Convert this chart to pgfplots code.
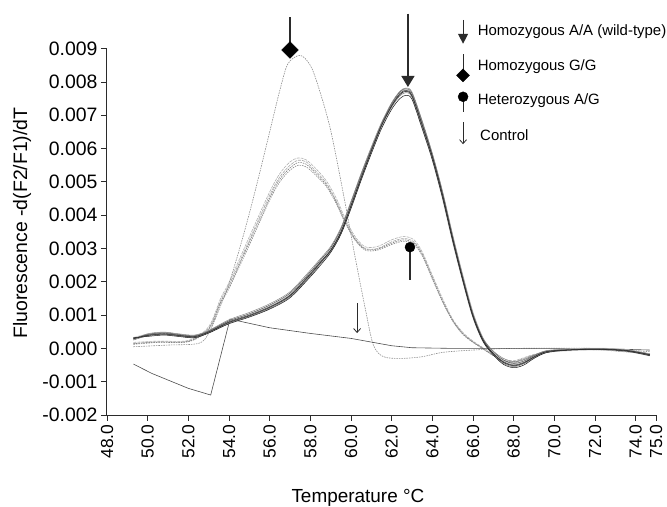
\documentclass[border=0pt]{standalone}
\usepackage{pgfplots}
\pgfplotsset{compat=1.18}
\usepackage{pgfplotstable}
\usepackage{fontspec}
\setmainfont{Liberation Sans}
\usetikzlibrary{arrows.meta}
\definecolor{axisgray}{HTML}{2B2B2B}

% Homozygous A/A (wild-type) replicates
\pgfplotstableread{
T w1 w2 w3 w4 w5 w6
49.3 0.30e-3 0.25e-3 0.28e-3 0.32e-3 0.27e-3 0.29e-3
50.0 0.40e-3 0.38e-3 0.42e-3 0.36e-3 0.44e-3 0.39e-3
50.8 0.45e-3 0.42e-3 0.47e-3 0.40e-3 0.49e-3 0.43e-3
51.5 0.40e-3 0.38e-3 0.42e-3 0.36e-3 0.44e-3 0.39e-3
52.3 0.36e-3 0.33e-3 0.38e-3 0.32e-3 0.40e-3 0.35e-3
53.0 0.50e-3 0.47e-3 0.52e-3 0.46e-3 0.54e-3 0.49e-3
54.0 0.80e-3 0.76e-3 0.83e-3 0.74e-3 0.86e-3 0.78e-3
55.0 1.00e-3 0.96e-3 1.04e-3 0.94e-3 1.08e-3 0.98e-3
56.0 1.25e-3 1.20e-3 1.30e-3 1.18e-3 1.34e-3 1.23e-3
57.0 1.60e-3 1.55e-3 1.66e-3 1.52e-3 1.70e-3 1.58e-3
58.0 2.25e-3 2.18e-3 2.30e-3 2.15e-3 2.35e-3 2.22e-3
58.5 2.60e-3 2.55e-3 2.66e-3 2.50e-3 2.70e-3 2.58e-3
59.0 2.95e-3 2.92e-3 3.02e-3 2.88e-3 3.06e-3 2.94e-3
59.5 3.50e-3 3.45e-3 3.58e-3 3.42e-3 3.62e-3 3.48e-3
60.0 4.30e-3 4.25e-3 4.38e-3 4.20e-3 4.42e-3 4.28e-3
60.5 5.15e-3 5.10e-3 5.22e-3 5.05e-3 5.26e-3 5.12e-3
61.0 5.95e-3 5.92e-3 6.00e-3 5.85e-3 6.05e-3 5.93e-3
61.5 6.70e-3 6.68e-3 6.74e-3 6.60e-3 6.78e-3 6.69e-3
62.0 7.30e-3 7.25e-3 7.35e-3 7.18e-3 7.38e-3 7.28e-3
62.4 7.65e-3 7.58e-3 7.70e-3 7.50e-3 7.72e-3 7.62e-3
62.7 7.75e-3 7.68e-3 7.80e-3 7.60e-3 7.82e-3 7.72e-3
63.0 7.60e-3 7.55e-3 7.66e-3 7.48e-3 7.70e-3 7.58e-3
63.5 6.70e-3 6.66e-3 6.80e-3 6.60e-3 6.84e-3 6.72e-3
64.0 5.75e-3 5.72e-3 5.82e-3 5.66e-3 5.86e-3 5.76e-3
64.5 4.60e-3 4.56e-3 4.68e-3 4.52e-3 4.72e-3 4.62e-3
65.0 3.30e-3 3.26e-3 3.36e-3 3.22e-3 3.40e-3 3.30e-3
65.5 2.10e-3 2.06e-3 2.14e-3 2.02e-3 2.18e-3 2.08e-3
66.0 1.00e-3 0.97e-3 1.03e-3 0.93e-3 1.06e-3 0.98e-3
66.5 0.25e-3 0.22e-3 0.28e-3 0.20e-3 0.30e-3 0.24e-3
67.0 -0.15e-3 -0.18e-3 -0.10e-3 -0.20e-3 -0.08e-3 -0.16e-3
67.5 -0.40e-3 -0.45e-3 -0.35e-3 -0.48e-3 -0.30e-3 -0.42e-3
68.0 -0.50e-3 -0.55e-3 -0.45e-3 -0.58e-3 -0.40e-3 -0.52e-3
68.5 -0.42e-3 -0.46e-3 -0.38e-3 -0.50e-3 -0.34e-3 -0.44e-3
69.0 -0.25e-3 -0.28e-3 -0.22e-3 -0.30e-3 -0.20e-3 -0.26e-3
69.6 -0.10e-3 -0.12e-3 -0.08e-3 -0.13e-3 -0.07e-3 -0.10e-3
70.5 -0.05e-3 -0.06e-3 -0.04e-3 -0.06e-3 -0.03e-3 -0.05e-3
72.0 -0.02e-3 -0.03e-3 -0.01e-3 -0.03e-3 0.00e-3 -0.02e-3
73.5 -0.06e-3 -0.07e-3 -0.05e-3 -0.08e-3 -0.04e-3 -0.06e-3
74.7 -0.20e-3 -0.20e-3 -0.18e-3 -0.22e-3 -0.16e-3 -0.19e-3
}\wt

% Heterozygous A/G replicates
\pgfplotstableread{
T h1 h2 h3 h4
49.3 0.15e-3 0.12e-3 0.18e-3 0.14e-3
50.5 0.20e-3 0.18e-3 0.22e-3 0.19e-3
52.0 0.22e-3 0.20e-3 0.24e-3 0.21e-3
53.0 0.60e-3 0.55e-3 0.65e-3 0.58e-3
53.6 1.45e-3 1.35e-3 1.52e-3 1.40e-3
54.0 1.90e-3 1.80e-3 1.98e-3 1.85e-3
55.0 3.25e-3 3.10e-3 3.35e-3 3.18e-3
56.0 4.60e-3 4.45e-3 4.70e-3 4.52e-3
56.5 5.15e-3 5.00e-3 5.25e-3 5.08e-3
57.0 5.50e-3 5.35e-3 5.60e-3 5.42e-3
57.4 5.65e-3 5.50e-3 5.72e-3 5.58e-3
57.8 5.60e-3 5.45e-3 5.66e-3 5.53e-3
58.3 5.30e-3 5.18e-3 5.38e-3 5.24e-3
58.8 4.95e-3 4.85e-3 5.02e-3 4.90e-3
59.3 4.40e-3 4.32e-3 4.48e-3 4.36e-3
59.7 3.85e-3 3.78e-3 3.92e-3 3.82e-3
60.2 3.30e-3 3.25e-3 3.36e-3 3.28e-3
60.7 3.00e-3 2.95e-3 3.05e-3 2.98e-3
61.3 3.00e-3 2.95e-3 3.06e-3 2.98e-3
62.0 3.20e-3 3.12e-3 3.26e-3 3.16e-3
62.6 3.30e-3 3.22e-3 3.36e-3 3.26e-3
63.1 3.20e-3 3.12e-3 3.26e-3 3.16e-3
63.5 2.85e-3 2.78e-3 2.90e-3 2.82e-3
64.0 2.15e-3 2.08e-3 2.20e-3 2.12e-3
64.5 1.45e-3 1.40e-3 1.50e-3 1.42e-3
65.0 0.85e-3 0.82e-3 0.88e-3 0.84e-3
65.5 0.45e-3 0.42e-3 0.48e-3 0.44e-3
66.0 0.20e-3 0.18e-3 0.22e-3 0.19e-3
66.5 0.00e-3 -0.02e-3 0.02e-3 -0.01e-3
67.0 -0.20e-3 -0.22e-3 -0.18e-3 -0.21e-3
67.5 -0.35e-3 -0.38e-3 -0.32e-3 -0.36e-3
68.0 -0.40e-3 -0.44e-3 -0.37e-3 -0.42e-3
68.5 -0.30e-3 -0.34e-3 -0.28e-3 -0.32e-3
69.0 -0.20e-3 -0.22e-3 -0.18e-3 -0.21e-3
70.0 -0.08e-3 -0.09e-3 -0.07e-3 -0.08e-3
72.0 -0.03e-3 -0.04e-3 -0.02e-3 -0.03e-3
74.5 -0.15e-3 -0.16e-3 -0.14e-3 -0.15e-3
}\het

% Homozygous G/G
\pgfplotstableread{
T v
49.3 0.05e-3
51.0 0.10e-3
52.5 0.15e-3
53.0 0.45e-3
53.5 1.15e-3
54.0 1.95e-3
54.5 2.95e-3
55.0 4.05e-3
55.5 5.25e-3
56.0 6.50e-3
56.5 7.75e-3
56.9 8.55e-3
57.5 8.80e-3
58.0 8.50e-3
58.4 7.85e-3
59.0 6.55e-3
59.7 4.40e-3
60.2 2.75e-3
60.7 1.20e-3
61.1 0.10e-3
61.6 -0.25e-3
62.5 -0.30e-3
63.5 -0.25e-3
64.5 -0.12e-3
66.0 -0.05e-3
68.0 0.00e-3
72.0 0.00e-3
74.7 -0.10e-3
}\gg

% Control
\pgfplotstableread{
T v
49.3 -0.47e-3
50.2 -0.75e-3
51.0 -0.95e-3
52.0 -1.20e-3
53.1 -1.40e-3
54.05 0.88e-3
56.0 0.62e-3
58.0 0.45e-3
60.0 0.30e-3
62.0 0.08e-3
63.0 0.02e-3
65.0 0.00e-3
68.0 0.00e-3
72.0 0.00e-3
74.7 -0.05e-3
}\ctrl

\begin{document}
\begin{tikzpicture}
\begin{axis}[
  name=ax,
  scale only axis, width=549bp, height=366.3bp,
  xmin=48, xmax=75, ymin=-0.002, ymax=0.009,
  scaled y ticks=false,
  axis x line=bottom, axis y line=left,
  axis line style={-, draw=axisgray, line width=1bp},
  every tick/.style={draw=axisgray, line width=0.9bp},
  tick align=outside, major tick length=6bp,
  xtick={48,50,52,54,56,58,60,62,64,66,68,70,72,74,75},
  ytick={-0.002,-0.001,0,0.001,0.002,0.003,0.004,0.005,0.006,0.007,0.008,0.009},
  /pgf/number format/assume math mode=true,
  xticklabel style={font=\fontsize{17.5}{18}\selectfont, rotate=90, anchor=east,
    /pgf/number format/.cd, fixed, fixed zerofill, precision=1},
  yticklabel style={font=\fontsize{19.5}{20}\selectfont,
    /pgf/number format/.cd, fixed, fixed zerofill, precision=3},
  xlabel={Temperature °C},
  xlabel style={at={(axis description cs:0.457,-0.2402)}, anchor=base, font=\fontsize{19}{20}\selectfont},
  ylabel={Fluorescence -d(F2/F1)/dT},
  ylabel style={at={(axis description cs:-0.1457,0.524)}, anchor=base, font=\fontsize{19.5}{20}\selectfont},
  clip=false,
  legend style={draw=none, fill=none, at={(axis description cs:0.636,1.081)}, anchor=north west,
    font=\fontsize{15}{17}\selectfont, row sep=9.5bp, inner sep=0pt, column sep=6bp},
  legend cell align=left,
]
% heterozygous
\addplot[forget plot, black!35, line width=0.6bp, dash pattern=on 3bp off 1bp, smooth] table[x=T,y=h1]{\het};
\addplot[forget plot, black!45, line width=0.6bp, dash pattern=on 1.5bp off 1bp, smooth] table[x=T,y=h2]{\het};
\addplot[forget plot, black!30, line width=0.6bp, dash pattern=on 3bp off 1bp, smooth] table[x=T,y=h3]{\het};
\addplot[forget plot, black!50, line width=0.6bp, dash pattern=on 1.5bp off 1bp, smooth] table[x=T,y=h4]{\het};
% G/G
\addplot[forget plot, black!45, line width=0.6bp, dash pattern=on 1.5bp off 1bp, smooth] table[x=T,y=v]{\gg};
% control
\addplot[forget plot, black!70, line width=0.6bp] table[x=T,y=v]{\ctrl};
% wild-type
\addplot[forget plot, black!18, line width=2.6bp, smooth] table[x=T,y=w1]{\wt};
\addplot[forget plot, black!75, line width=0.45bp, smooth] table[x=T,y=w1]{\wt};
\addplot[forget plot, black!55, line width=0.45bp, smooth] table[x=T,y=w2]{\wt};
\addplot[forget plot, black!70, line width=0.45bp, smooth] table[x=T,y=w3]{\wt};
\addplot[forget plot, black!90, line width=0.5bp, smooth] table[x=T,y=w4]{\wt};
\addplot[forget plot, black!50, line width=0.45bp, smooth] table[x=T,y=w5]{\wt};
\addplot[forget plot, black!85, line width=0.5bp, smooth] table[x=T,y=w6]{\wt};
% annotations
\addplot[forget plot, axisgray, line width=1.2bp, -{Triangle[width=13bp,length=11bp]}] coordinates {(62.8,0.01005) (62.8,0.00785)};
\addplot[forget plot, axisgray, line width=1.2bp] coordinates {(57.0,0.00995) (57.0,0.00896)};
\addplot[forget plot, black, only marks, mark=square*, mark size=5.9bp, mark options={rotate=45}] coordinates {(57.0,0.00896)};
\addplot[forget plot, axisgray, line width=1.2bp] coordinates {(62.9,0.00304) (62.9,0.00205)};
\addplot[forget plot, black, only marks, mark=*, mark size=5bp] coordinates {(62.9,0.00304)};
\addplot[forget plot, axisgray, line width=0.8bp, -{Straight Barb[width=7bp,length=4bp]}] coordinates {(60.3,0.00136) (60.3,0.00046)};
% legend
\addlegendimage{legend image code/.code={\draw[axisgray, line width=1.1bp,-{Triangle[width=10bp,length=10bp]}] (5bp,11bp) -- (5bp,-13bp);}}
\addlegendentry{Homozygous A/A (wild-type)}
\addlegendimage{legend image code/.code={\draw[axisgray, line width=1.1bp] (5bp,11bp) -- (5bp,-10bp);
  \fill[black] (5bp,-3.5bp) -- (11.5bp,-10bp) -- (5bp,-16.5bp) -- (-1.5bp,-10bp) -- cycle;}}
\addlegendentry{Homozygous G/G}
\addlegendimage{legend image code/.code={\draw[axisgray, line width=1.1bp] (5bp,3bp) -- (5bp,-12bp);
  \fill[black] (5bp,3bp) circle[radius=5bp];}}
\addlegendentry{Heterozygous A/G}
\addlegendimage{legend image code/.code={\draw[axisgray, line width=0.8bp,-{Straight Barb[width=7bp,length=4bp]}] (5bp,14bp) -- (5bp,-8bp);}}
\addlegendentry{\,Control}
\end{axis}
\pgfresetboundingbox
\path[use as bounding box] ([shift={(-107bp,-92bp)}]ax.south west) rectangle ([shift={(11bp,48.7bp)}]ax.north east);
\end{tikzpicture}
\end{document}
